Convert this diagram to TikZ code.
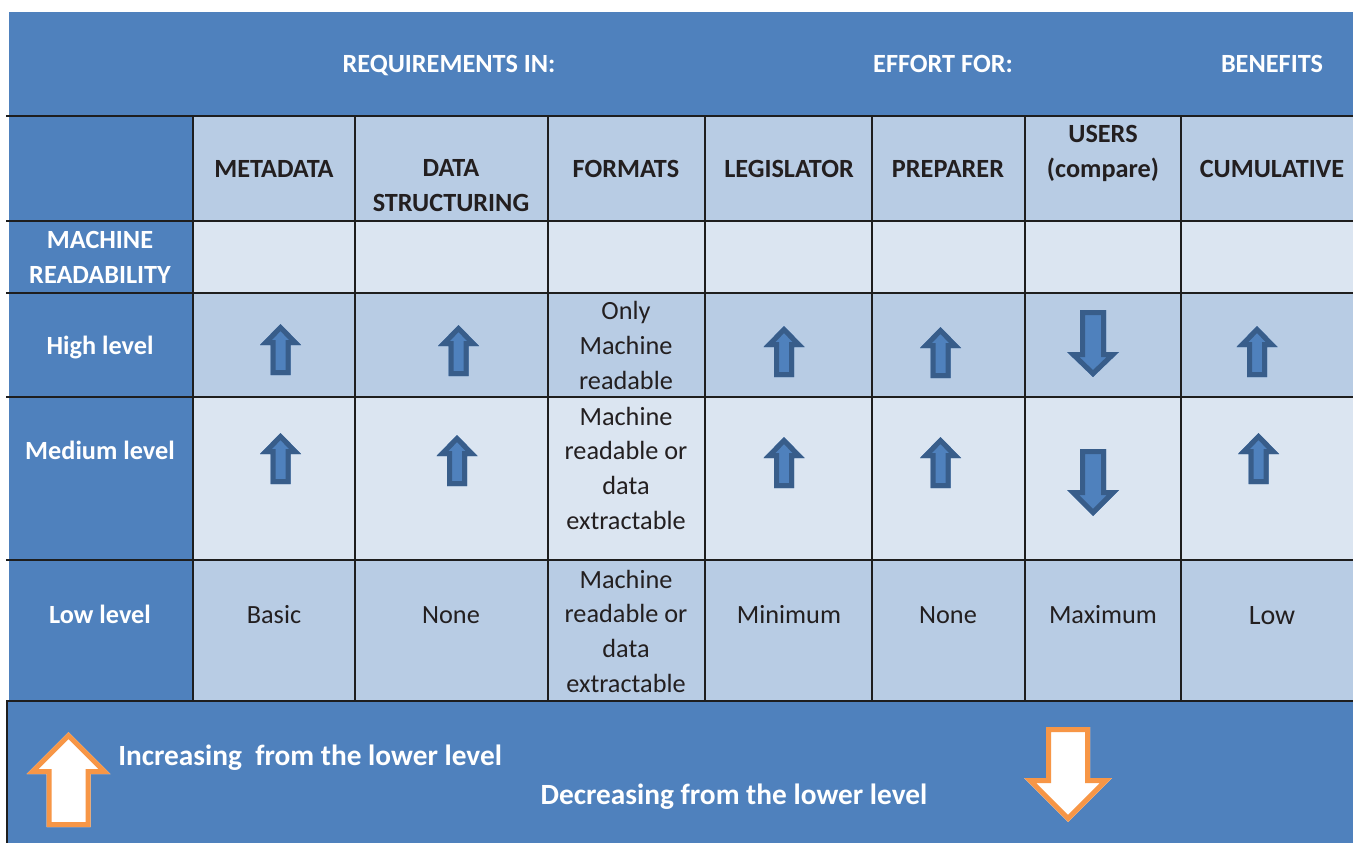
\documentclass[tikz,border=0pt]{standalone}
\usepackage{fontspec}
\setmainfont{Carlito}
\definecolor{dblue}{HTML}{4F81BD}
\definecolor{mblue}{HTML}{B8CCE4}
\definecolor{lblue}{HTML}{DBE5F1}
\definecolor{arrline}{HTML}{385D8A}
\definecolor{gridc}{HTML}{1E1E1E}
\definecolor{txt}{HTML}{231F20}
\definecolor{orng}{HTML}{F79646}
\newcommand\ArrPath[6]{(#1,#2) -- (#1+#5,#3) -- (#1+#6,#3) -- (#1+#6,#4) -- (#1-#6,#4) -- (#1-#6,#3) -- (#1-#5,#3) -- cycle}
% fill, stroke, cx, tip, base, end, halfhead, halfshaft
\newcommand\BlockArrow[8]{%
  \begin{scope}
    \fill[#1] \ArrPath{#3}{#4}{#5}{#6}{#7}{#8};
    \clip \ArrPath{#3}{#4}{#5}{#6}{#7}{#8};
    \draw[#2, line width=7.5pt, line join=miter] \ArrPath{#3}{#4}{#5}{#6}{#7}{#8};
  \end{scope}}
\tikzset{
  gridline/.style={draw=gridc, line width=2.2pt},
  toptext/.style={font=\bfseries\fontsize{19.7}{26}\selectfont, text=white, anchor=base, inner sep=0pt, align=center},
  colhead/.style={font=\bfseries\fontsize{19.7}{26}\selectfont, text=txt, anchor=base, inner sep=0pt, align=center},
  cell/.style={font=\fontsize{19.7}{26}\selectfont, text=txt, anchor=base, inner sep=0pt, align=center},
  legendtext/.style={font=\bfseries\fontsize{22}{28}\selectfont, text=white, anchor=base, inner sep=0pt},
}
\begin{document}
\begin{tikzpicture}[x=0.75pt,y=-0.75pt]
\useasboundingbox (0,0) rectangle (1353,843);
\fill[white] (0,0) rectangle (1353,843);
% backgrounds
\fill[dblue] (9,12) rectangle (1353,116);
\fill[dblue] (9,116) rectangle (193,701);
\fill[mblue] (193,116) rectangle (1353,221);
\fill[lblue] (193,221) rectangle (1353,293);
\fill[mblue] (193,293) rectangle (1353,397);
\fill[lblue] (193,397) rectangle (1353,560);
\fill[mblue] (193,560) rectangle (1353,701);
\fill[dblue] (8,701) rectangle (1353,843);
% grid lines
\foreach \yy in {116,221,293,397,560,701} \draw[gridline] (6,\yy) -- (1353,\yy);
\foreach \xx in {193,355,548,705,872,1025,1181} \draw[gridline] (\xx,116) -- (\xx,701);
\draw[gridline] (7,701) -- (7,843);
% top header
\node[toptext] (req) at (449,72) {REQUIREMENTS IN:};
\node[toptext] (eff) at (943,72) {EFFORT FOR:};
\node[toptext] (ben) at (1272,72) {BENEFITS};
% column headers (base anchor = last line's baseline)
\node[colhead] (meta) at (274,177) {METADATA};
\node[colhead] (dstr) at (451,211.5) {DATA\\STRUCTURING};
\node[colhead] (form) at (626,177) {FORMATS};
\node[colhead] (legi) at (789,177) {LEGISLATOR};
\node[colhead] (prep) at (948,177) {PREPARER};
\node[colhead] (user) at (1103,177) {USERS\\(compare)};
\node[colhead] (cumu) at (1272,177) {CUMULATIVE};
% row headers
\node[toptext] (mr) at (100,283) {MACHINE\\READABILITY};
\node[toptext] (high) at (100,354) {High level};
\node[toptext] (med) at (100,459) {Medium level};
\node[toptext] (low) at (100,623) {Low level};
% formats cells
\node[cell] (fh) at (626,389) {Only\\Machine\\readable};
\node[cell] (fm) at (626,529) {Machine\\readable or\\data\\extractable};
\node[cell] (fl) at (626,692) {Machine\\readable or\\data\\extractable};
% low row
\node[cell] (lmeta) at (274,623) {Basic};
\node[cell] (ldstr) at (451,623) {None};
\node[cell] (llegi) at (789,623) {Minimum};
\node[cell] (lprep) at (948,623) {None};
\node[cell] (luser) at (1103,623) {Maximum};
\node[cell, font=\fontsize{21}{26}\selectfont] (lcumu) at (1272,624) {Low};
% table arrows (up)
\BlockArrow{dblue}{arrline}{280.5}{324}{345}{375}{20.5}{10}
\BlockArrow{dblue}{arrline}{280.5}{433}{454}{484}{20.5}{10}
\BlockArrow{dblue}{arrline}{458.5}{325}{346}{376}{20.5}{10}
\BlockArrow{dblue}{arrline}{457}{435}{456}{486}{20.5}{10}
\BlockArrow{dblue}{arrline}{784}{326}{347}{377}{20.5}{10}
\BlockArrow{dblue}{arrline}{784}{437}{458}{488}{20.5}{10}
\BlockArrow{dblue}{arrline}{940.5}{327}{348}{378}{20.5}{10}
\BlockArrow{dblue}{arrline}{940.5}{437}{458}{488}{20.5}{10}
\BlockArrow{dblue}{arrline}{1257}{326}{347}{377}{20.5}{10}
\BlockArrow{dblue}{arrline}{1258.5}{433}{454}{484}{20.5}{10}
% table arrows (down)
\BlockArrow{dblue}{arrline}{1093}{377}{352}{310}{26}{13}
\BlockArrow{dblue}{arrline}{1093}{516}{490}{449}{26}{13}
% legend
\BlockArrow{white}{orng}{68.5}{732}{774}{827}{42}{22}
\BlockArrow{white}{orng}{1068}{822}{778}{727}{44}{22}
\node[legendtext, anchor=base west] (inc) at (118,765) {Increasing\ \ from the lower level};
\node[legendtext] (dec) at (734,804) {Decreasing from the lower level};
\end{tikzpicture}
\end{document}
